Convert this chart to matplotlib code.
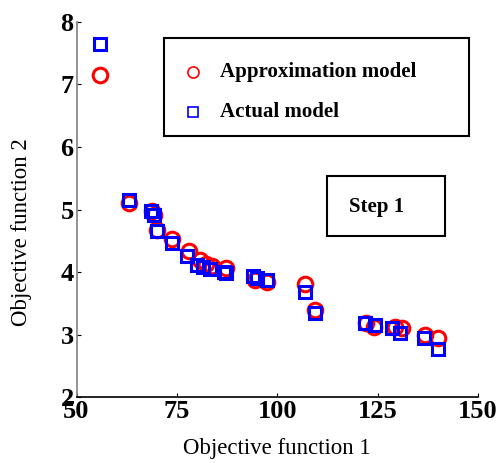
import matplotlib.pyplot as plt
from matplotlib.patches import Rectangle

# Pareto noktalari
approx_x = [55.8, 63.2, 68.7, 69.3, 70.0, 73.9, 77.9, 80.7, 82.3, 83.8, 87.2, 94.5, 97.5,
            107.0, 109.5, 122.0, 124.0, 129.3, 131.0, 136.7, 140.1]
approx_y = [7.15, 5.10, 4.97, 4.92, 4.68, 4.53, 4.33, 4.20, 4.13, 4.10, 4.06, 3.88, 3.84,
            3.81, 3.39, 3.19, 3.12, 3.12, 3.10, 3.00, 2.94]

actual_x = [55.8, 63.2, 68.6, 69.3, 70.1, 73.8, 77.4, 79.9, 81.4, 83.2, 86.8, 87.3, 94.0,
            95.0, 97.5, 106.9, 109.4, 121.8, 124.3, 128.5, 130.5, 136.6, 140.1]
actual_y = [7.64, 5.15, 4.98, 4.91, 4.65, 4.47, 4.25, 4.12, 4.08, 4.05, 4.00, 3.98, 3.93,
            3.90, 3.87, 3.68, 3.35, 3.19, 3.15, 3.10, 3.03, 2.95, 2.77]

x_ticks = [50, 75, 100, 125, 150]
y_ticks = [2, 3, 4, 5, 6, 7, 8]

plt.rcParams["font.family"] = ["Liberation Serif", "DejaVu Serif"]

fig = plt.figure(figsize=(5, 4.63), dpi=100)
ax = fig.add_axes([0.153, 0.1425, 0.803, 0.81])

ax.plot(approx_x, approx_y, "o", ms=10.5, mfc="none", mec="red", mew=2.2)
ax.plot(actual_x, actual_y, "s", ms=9, mfc="none", mec="blue", mew=2.2)

ax.set_xlim(50, 150)
ax.set_ylim(2, 8)
ax.set_xticks(x_ticks)
ax.set_yticks(y_ticks)
ax.tick_params(direction="in", length=3, width=0.8, labelsize=19, pad=2)
for lab in ax.get_xticklabels() + ax.get_yticklabels():
    lab.set_fontweight("bold")

ax.spines["top"].set_visible(False)
ax.spines["right"].set_visible(False)
ax.spines["left"].set_color("#808080")
ax.spines["bottom"].set_color("black")
ax.spines["left"].set_linewidth(1.2)
ax.spines["bottom"].set_linewidth(1.2)

ax.set_xlabel("Objective function 1", fontsize=16.5, labelpad=11)
ax.set_ylabel("Objective function 2", fontsize=16.5)
ax.yaxis.set_label_coords(-0.11, 0.44)

# Lejant kutusu
ax.add_patch(Rectangle((0.218, 0.696), 0.76, 0.261, transform=ax.transAxes,
                       fill=False, ec="black", lw=1.5, clip_on=False))
ax.plot([0.29], [0.867], "o", ms=8, mfc="none", mec="red", mew=1.2,
        transform=ax.transAxes, clip_on=False)
ax.plot([0.29], [0.76], "s", ms=7, mfc="none", mec="blue", mew=1.2,
        transform=ax.transAxes, clip_on=False)
ax.text(0.357, 0.867, "Approximation model", transform=ax.transAxes,
        fontsize=15, fontweight="bold", va="center", ha="left")
ax.text(0.357, 0.76, "Actual model", transform=ax.transAxes,
        fontsize=15, fontweight="bold", va="center", ha="left")

# Step 1 kutusu
ax.add_patch(Rectangle((0.623, 0.43), 0.295, 0.16, transform=ax.transAxes,
                       fill=False, ec="black", lw=1.5, clip_on=False))
ax.text(0.748, 0.508, "Step 1", transform=ax.transAxes,
        fontsize=15, fontweight="bold", va="center", ha="center")

fig.savefig("out.png", dpi=100)
